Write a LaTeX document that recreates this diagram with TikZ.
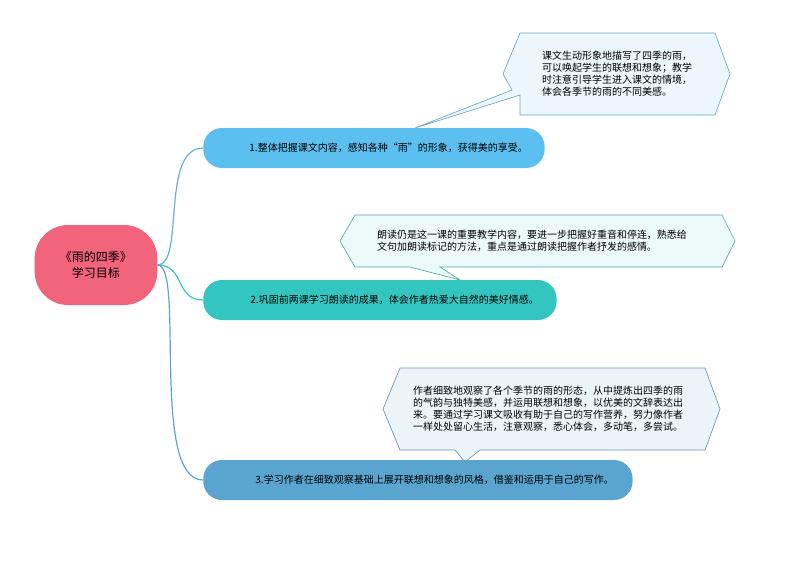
\documentclass[tikz,border=0pt]{standalone}
\usepackage{fontspec}
\newfontfamily\cjk{Noto Sans CJK SC}
\begin{document}
\begin{tikzpicture}[x=0.75pt,y=-0.75pt,
  branch/.style={rounded corners=14pt,minimum height=30pt,inner sep=0pt,font=\cjk\fontsize{7.5}{9}\selectfont,text=black,anchor=west},
  note/.style={font=\cjk\fontsize{7.5}{9}\selectfont,align=left,anchor=center},
  link/.style={line width=0.9pt}]
\useasboundingbox (0,0) rectangle (794,561);
\definecolor{pinkc}{HTML}{F2647C}
\definecolor{b1}{HTML}{5BBFEF}
\definecolor{b2}{HTML}{33C6C0}
\definecolor{b3}{HTML}{5AA5CF}
% callouts
\filldraw[draw=b1!60!gray,fill=b1!12,line width=0.5pt]
 (520,33)--(715,33)--(730,74)--(715,115)--(520,115)--(520,95)--(415,128)--(512,90)--(503,74)--cycle;
\filldraw[draw=b2!60!gray,fill=b2!10,line width=0.5pt]
 (355,215)--(722,215)--(735,241)--(722,267)--(440,267)--(460,280)--(410,267)--(355,267)--(340,241)--cycle;
\filldraw[draw=b3!60!gray,fill=b3!12,line width=0.5pt]
 (400,368)--(705,368)--(720,409)--(705,450)--(480,450)--(465,462)--(455,450)--(400,450)--(383,409)--cycle;
\node[note] (n1) at (617,74) {课文生动形象地描写了四季的雨，\\可以唤起学生的联想和想象；教学\\时注意引导学生进入课文的情境，\\体会各季节的雨的不同美感。};
\node[note] (n2) at (532,241) {朗读仍是这一课的重要教学内容，要进一步把握好重音和停连，熟悉给\\文句加朗读标记的方法，重点是通过朗读把握作者抒发的感情。};
\node[note] (n3) at (548,409) {作者细致地观察了各个季节的雨的形态，从中提炼出四季的雨\\的气韵与独特美感，并运用联想和想象，以优美的文辞表达出\\来。要通过学习课文吸收有助于自己的写作营养，努力像作者\\一样处处留心生活，注意观察，悉心体会，多动笔，多尝试。};
% root
\node[fill=pinkc,rounded corners=25pt,minimum width=92pt,minimum height=60pt,font=\cjk\fontsize{9}{12}\selectfont,align=center] (root) at (96,265) {《雨的四季》\\学习目标};
% branches
\node[branch,fill=b1,minimum width=256pt] (a) at (203,148) {\hspace{22pt}1.整体把握课文内容，感知各种“雨”的形象，获得美的享受。\hfill};
\node[branch,fill=b2,minimum width=265pt] (b) at (203,300) {\hspace{22pt}2.巩固前两课学习朗读的成果，体会作者热爱大自然的美好情感。\hfill};
\node[branch,fill=b3,minimum width=322pt] (c) at (203,480) {\hspace{25pt}3.学习作者在细致观察基础上展开联想和想象的风格，借鉴和运用于自己的写作。\hfill};
\draw[link,b1!80!gray] (root.east) .. controls (185,265) and (160,148) .. (a.west);
\draw[link,b2] (root.east) .. controls (185,265) and (175,300) .. (b.west);
\draw[link,b3] (root.east) .. controls (185,265) and (150,480) .. (c.west);
\end{tikzpicture}
\end{document}
